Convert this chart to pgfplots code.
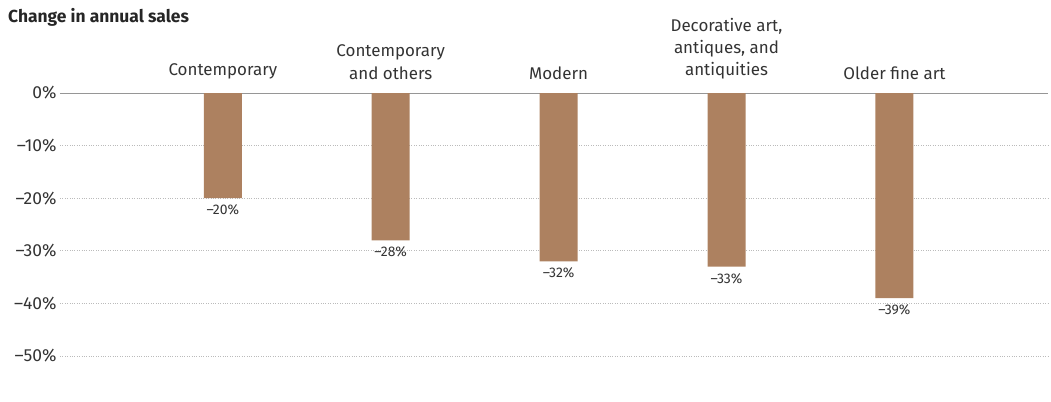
\documentclass[border=0pt]{standalone}
\usepackage{pgfplots}
\pgfplotsset{compat=1.18}
\usepackage{fontspec}
\setmainfont{Fira Sans}
\definecolor{barc}{HTML}{AD8160}
\definecolor{txt}{HTML}{333333}
\definecolor{gridc}{HTML}{BBBBBB}
\begin{document}
\begin{tikzpicture}[x=1bp,y=1bp]
\path[use as bounding box] (-60,-45) rectangle (991,356);
\begin{axis}[
  at={(0,0)}, anchor=south west,
  scale only axis, width=988bp, height=263bp,
  ybar, bar width=38bp,
  xmin=-0.97, xmax=4.915, ymin=-50, ymax=0,
  xtick=data,
  xticklabels={Contemporary,{Contemporary\\and others},Modern,{Decorative art,\\antiques, and\\antiquities},Older fine art},
  xticklabel pos=upper,
  xticklabel style={align=center, anchor=south, inner sep=0pt, yshift=9bp,
    font=\fontsize{17}{22.5}\selectfont, text=txt},
  ytick={-50,-40,-30,-20,-10},
  yticklabels={–50\%,–40\%,–30\%,–20\%,–10\%},
  extra y ticks={0}, extra y tick labels={0\%},
  extra y tick style={grid style={solid, draw=gridc!80!black, line width=0.8pt}},
  yticklabel style={font=\fontsize{17.5}{20}\selectfont, text=txt},
  ymajorgrids, grid style={dotted, draw=gridc, line width=0.8pt},
  axis line style={draw=none}, tick style={draw=none},
  point meta=explicit symbolic,
  nodes near coords,
  every node near coord/.append style={font=\fontsize{14}{16}\selectfont, text=txt, anchor=north, yshift=-3bp},
  clip=false,
]
\addplot[fill=barc, draw=none] coordinates {(0,-20) [–20\%] (1,-28) [–28\%] (2,-32) [–32\%] (3,-33) [–33\%] (4,-39) [–39\%]};
\end{axis}
\node[anchor=base west, inner sep=0pt, font=\fontsize{17.5}{20}\bfseries\selectfont, text=black!85] at (-52,334) {Change in annual sales};
\end{tikzpicture}
\end{document}
